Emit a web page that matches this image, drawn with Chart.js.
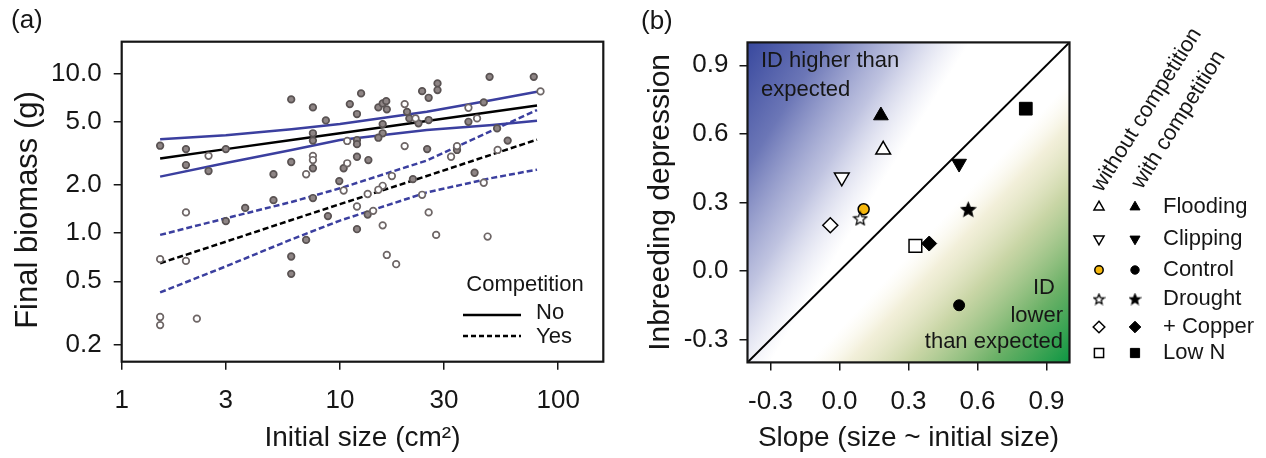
<!DOCTYPE html>
<html>
<head>
<meta charset="UTF-8">
<title>Final biomass and inbreeding depression</title>
<script src="https://cdn.jsdelivr.net/npm/chart.js"></script>
<style>
  html, body { margin: 0; padding: 0; background: #fff; }
  #wrap { position: relative; width: 1266px; height: 458px; }
  canvas { position: absolute; top: 0; }
  #chartA { left: 0; }
  #chartB { left: 630px; }
</style>
</head>
<body>
<div id="wrap">
  <canvas id="chartA" width="630" height="458"></canvas>
  <canvas id="chartB" width="636" height="458"></canvas>
</div>
<script>
// ---------- panel (a): biomass vs initial size ----------
const sizeTicks = [1, 3, 10, 30, 100];
const biomassTicks = [0.2, 0.5, 1, 2, 5, 10];

// grey filled dots
const filledSize = [1.50, 1.97, 3.00, 1.97, 2.50, 5.98, 7.52, 8.62, 7.52, 7.52, 7.52, 5.98, 4.96,
  11.1, 11.97, 12.5, 11.97, 11.97, 11.97, 10.4, 13.5, 9.93, 13.4, 11.97, 8.81, 7.52, 7.00, 4.96,
  3.68, 3.00, 5.98, 5.98, 48.5, 77.3, 28.0, 28.0, 23.8, 25.5, 20.3, 20.8, 22.9, 25.5, 15.0, 15.7,
  16.3, 16.4, 15.7, 15.7, 15.0, 45.6, 38.8, 52.5, 58.7, 25.1, 34.4, 21.6, 41.4];
const filledBiomass = [3.53, 3.36, 3.36, 2.67, 2.45, 6.88, 6.13, 5.08, 4.22, 3.80, 2.55, 2.79, 2.34,
  6.43, 5.57, 7.50, 3.83, 3.61, 3.01, 2.55, 2.87, 2.12, 1.31, 1.06, 1.28, 1.66, 0.908, 1.61,
  1.44, 1.19, 0.715, 0.557, 9.52, 9.52, 8.66, 7.87, 7.75, 7.04, 5.75, 5.23, 4.87, 5.11, 6.13, 6.49,
  6.71, 5.96, 4.82, 4.22, 3.96, 6.59, 4.98, 4.53, 3.80, 3.36, 3.32, 2.18, 2.39];

// open dots
const openSize = [2.50, 7.52, 7.52, 7.00, 10.8, 10.8, 10.4, 13.4, 11.97, 1.97, 1.50, 1.97, 1.50,
  1.50, 2.21, 83.0, 19.8, 22.2, 38.8, 42.5, 19.8, 34.4, 32.3, 52.8, 17.3, 15.7, 15.0, 45.6, 23.8,
  14.2, 25.5, 15.7, 27.6, 47.5, 16.4, 18.1];
const openBiomass = [3.05, 3.05, 2.87, 2.34, 3.78, 2.74, 1.85, 1.76, 1.47, 1.35, 0.688, 0.671, 0.299,
  0.266, 0.292, 7.72, 6.43, 5.23, 6.10, 5.23, 3.51, 3.51, 3.01, 3.32, 2.28, 1.98, 1.87, 2.07, 1.74,
  1.38, 1.35, 1.12, 0.976, 0.953, 0.731, 0.640];

// fitted lines with confidence bands
const fitSize    = [1.5, 3, 6, 10, 25, 50, 80];
const fitNo      = [2.94, 3.36, 3.83, 4.23, 5.04, 5.75, 6.29];
const fitNoHigh  = [3.87, 4.11, 4.47, 4.82, 5.75, 6.81, 7.67];
const fitNoLow   = [2.26, 2.75, 3.32, 3.83, 4.43, 4.76, 5.06];
const fitYes     = [0.649, 0.885, 1.21, 1.52, 2.28, 3.12, 3.85];
const fitYesHigh = [0.976, 1.24, 1.57, 1.91, 2.85, 4.40, 5.90];
const fitYesLow  = [0.426, 0.62, 0.915, 1.20, 1.80, 2.22, 2.50];

// ---------- panel (b): inbreeding depression vs slope ----------
const treatments   = ['Flooding', 'Clipping', 'Control', 'Drought', '+ Copper', 'Low N'];
const slopeWithout = [0.19, 0.01, 0.105, 0.09, -0.04, 0.33];
const idWithout    = [0.53, 0.41, 0.27, 0.23, 0.20, 0.11];
const slopeWith    = [0.18, 0.52, 0.52, 0.56, 0.39, 0.81];
const idWith       = [0.68, 0.47, -0.15, 0.27, 0.12, 0.71];
const identityLine = [-0.4, 1.0];
const slopeTicks = [-0.3, 0, 0.3, 0.6, 0.9];

const FONT = "'Liberation Sans', Arial, Helvetica, sans-serif";
const INK = '#161616';
const BLUE = '#3b3f9f';
Chart.defaults.font.family = FONT;
Chart.defaults.color = INK;

function xy(xs, ys) {
  return xs.map((x, i) => ({ x: x, y: ys[i] }));
}

// five-pointed star as an image, for pointStyle
function makeStar(size, fill) {
  const c = document.createElement('canvas');
  c.width = size; c.height = size;
  const g = c.getContext('2d');
  const cx = size / 2, cy = size / 2 + size * 0.04;
  const ro = size / 2 - 1.2, ri = ro * 0.45;
  g.beginPath();
  for (let i = 0; i < 10; i++) {
    const r = i % 2 ? ri : ro;
    const a = -Math.PI / 2 + i * Math.PI / 5;
    g.lineTo(cx + r * Math.cos(a), cy + r * Math.sin(a));
  }
  g.closePath();
  g.fillStyle = fill;
  g.fill();
  g.lineWidth = 1.3;
  g.strokeStyle = '#000';
  g.stroke();
  return c;
}

const starOpen = makeStar(16, '#fff');
const starFull = makeStar(17, '#000');
const starOpenSmall = makeStar(13, '#fff');
const starFullSmall = makeStar(13, '#000');

const shapes = ['triangle', 'triangle', 'circle', null, 'rectRot', 'rect'];
const shapeRotation = [0, 180, 0, 0, 0, 0];
const shapeRadius = [8.5, 8.5, 5.5, 7, 7.5, 9];
const openFill = ['#fff', '#fff', '#f6b70c', '#fff', '#fff', '#fff'];

const frame = {
  id: 'frame',
  afterDatasetsDraw(chart) {
    const a = chart.chartArea, ctx = chart.ctx;
    ctx.save();
    ctx.strokeStyle = INK;
    ctx.lineWidth = 2.2;
    ctx.strokeRect(a.left, a.top, a.right - a.left, a.bottom - a.top);
    ctx.restore();
  }
};

function text(ctx, str, x, y, size, align) {
  ctx.font = size + 'px ' + FONT;
  ctx.textAlign = align || 'left';
  ctx.textBaseline = 'middle';
  ctx.fillStyle = INK;
  ctx.fillText(str, x, y);
}

function tickSetup(ticks) {
  return s => { s.ticks = ticks.map(v => ({ value: v })); };
}

const tickGrid = { drawOnChartArea: false, drawTicks: true, tickLength: 8, color: INK, lineWidth: 1.5 };

// ---- panel (a) ----
const panelA = {
  id: 'panelA',
  afterDraw(chart) {
    const ctx = chart.ctx;
    ctx.save();
    text(ctx, '(a)', 11, 21, 26);
    // y axis title, sits a little below the plot centre in the original
    ctx.save();
    ctx.translate(28, 210);
    ctx.rotate(-Math.PI / 2);
    text(ctx, 'Final biomass (g)', 0, 0, 31, 'center');
    ctx.restore();
    text(ctx, 'Competition', 525, 285, 22, 'center');
    text(ctx, 'No', 536, 313, 22);
    text(ctx, 'Yes', 536, 337, 22);
    ctx.strokeStyle = '#000';
    ctx.lineWidth = 2.5;
    ctx.beginPath(); ctx.moveTo(463, 315); ctx.lineTo(521, 315); ctx.stroke();
    ctx.setLineDash([5, 3]);
    ctx.beginPath(); ctx.moveTo(463, 336); ctx.lineTo(521, 336); ctx.stroke();
    ctx.restore();
  }
};

function fitLine(ys, color, dashed) {
  return {
    data: xy(fitSize, ys), showLine: true, borderColor: color, borderWidth: 2.5,
    borderDash: dashed ? [6, 3] : [], pointRadius: 0, order: 2
  };
}

new Chart(document.getElementById('chartA'), {
  type: 'scatter',
  data: {
    datasets: [
      { data: xy(openSize, openBiomass), pointRadius: 3.3, pointBackgroundColor: '#fff',
        pointBorderColor: '#6e6666', pointBorderWidth: 1.7, order: 0 },
      { data: xy(filledSize, filledBiomass), pointRadius: 3.3, pointBackgroundColor: '#8e8585',
        pointBorderColor: '#5a5353', pointBorderWidth: 1.7, order: 0 },
      fitLine(fitNoHigh, BLUE, false),
      fitLine(fitNoLow, BLUE, false),
      fitLine(fitNo, '#000', false),
      fitLine(fitYesHigh, BLUE, true),
      fitLine(fitYesLow, BLUE, true),
      fitLine(fitYes, '#000', true)
    ]
  },
  options: {
    responsive: false,
    animation: false,
    layout: { padding: { top: 41.7, right: 26.7, left: 0, bottom: 0 } },
    plugins: { legend: { display: false }, tooltip: { enabled: false } },
    scales: {
      x: {
        type: 'logarithmic', min: 1, max: 161,
        afterFit: s => { s.height = 96.3; },
        afterBuildTicks: tickSetup(sizeTicks),
        ticks: { callback: v => String(v), autoSkip: false, maxRotation: 0, padding: 16,
                 font: { size: 26 }, color: INK },
        grid: tickGrid,
        border: { display: false },
        title: { display: true, text: 'Initial size (cm²)', font: { size: 28 }, color: INK,
                 padding: { top: 0, bottom: 3 } }
      },
      y: {
        type: 'logarithmic', min: 0.157, max: 15.8,
        afterFit: s => { s.width = 121.7; },
        afterBuildTicks: tickSetup(biomassTicks),
        ticks: { callback: v => v.toFixed(1), autoSkip: false, padding: 12,
                 font: { size: 26 }, color: INK },
        grid: tickGrid,
        border: { display: false },
        title: { display: false }
      }
    }
  },
  plugins: [frame, panelA]
});

// ---- panel (b) ----
const shading = {
  id: 'shading',
  beforeDatasetsDraw(chart) {
    const a = chart.chartArea, ctx = chart.ctx;
    const w = a.right - a.left, h = a.bottom - a.top;
    ctx.save();
    ctx.fillStyle = '#fff';
    ctx.fillRect(a.left, a.top, w, h);
    // blue towards the upper left
    const bl = ctx.createLinearGradient(a.left, a.top, a.left + 160, a.top + 100);
    bl.addColorStop(0, 'rgba(56,72,158,1)');
    bl.addColorStop(0.35, 'rgba(66,80,162,0.78)');
    bl.addColorStop(0.7, 'rgba(96,106,178,0.4)');
    bl.addColorStop(1, 'rgba(150,156,206,0)');
    ctx.fillStyle = bl;
    ctx.fillRect(a.left, a.top, w, h);
    // green towards the lower right, through a pale olive band
    const gr = ctx.createLinearGradient(a.right, a.bottom, a.right - 140, a.bottom - 130);
    gr.addColorStop(0, 'rgba(12,150,66,1)');
    gr.addColorStop(0.3, 'rgba(90,168,86,0.9)');
    gr.addColorStop(0.62, 'rgba(178,196,128,0.7)');
    gr.addColorStop(0.85, 'rgba(226,220,172,0.45)');
    gr.addColorStop(1, 'rgba(244,238,206,0)');
    ctx.fillStyle = gr;
    ctx.fillRect(a.left, a.top, w, h);
    ctx.restore();
  }
};

const panelB = {
  id: 'panelB',
  afterDraw(chart) {
    const ctx = chart.ctx;
    const H = Chart.helpers;
    ctx.save();
    text(ctx, '(b)', 11, 22, 26);
    text(ctx, 'ID higher than', 131, 61, 22);
    text(ctx, 'expected', 131, 90, 22);
    text(ctx, 'ID', 425, 288, 22, 'right');
    text(ctx, 'lower', 433, 316, 22, 'right');
    text(ctx, 'than expected', 433, 342, 22, 'right');

    // column headers
    [['without competition', 472, 193], ['with competition', 512, 190]].forEach(h => {
      ctx.save();
      ctx.translate(h[1], h[2]);
      ctx.rotate(-58 * Math.PI / 180);
      ctx.font = '22px ' + FONT;
      ctx.textAlign = 'left';
      ctx.textBaseline = 'alphabetic';
      ctx.fillStyle = INK;
      ctx.fillText(h[0], 0, 0);
      ctx.restore();
    });

    const rowY = [207, 239, 270, 299, 327, 353];
    const legR = [5.8, 5.8, 4.2, 5, 5.8, 6.5];
    treatments.forEach((name, i) => {
      const y = rowY[i];
      ctx.strokeStyle = '#000';
      ctx.lineWidth = 1.5;
      ctx.fillStyle = openFill[i];
      const st = shapes[i];
      H.drawPoint(ctx, { pointStyle: st || starOpenSmall, radius: legR[i], rotation: shapeRotation[i], borderWidth: 1.5 }, 469, y);
      ctx.fillStyle = '#000';
      ctx.lineWidth = 1;
      H.drawPoint(ctx, { pointStyle: st || starFullSmall, radius: legR[i], rotation: shapeRotation[i], borderWidth: 1 }, 505, y);
      text(ctx, name, 533, y, 22);
    });
    ctx.restore();
  }
};

new Chart(document.getElementById('chartB'), {
  type: 'scatter',
  data: {
    datasets: [
      { data: xy(slopeWith, idWith), pointStyle: shapes.map(s => s || starFull),
        pointRotation: shapeRotation, pointRadius: shapeRadius, pointBackgroundColor: '#000',
        pointBorderColor: '#000', pointBorderWidth: 1, order: 0 },
      { data: xy(slopeWithout, idWithout), pointStyle: shapes.map(s => s || starOpen),
        pointRotation: shapeRotation, pointRadius: shapeRadius, pointBackgroundColor: openFill,
        pointBorderColor: '#000', pointBorderWidth: 1.5, order: 0 },
      { data: xy(identityLine, identityLine), showLine: true, borderColor: '#000',
        borderWidth: 2, pointRadius: 0, order: 1 }
    ]
  },
  options: {
    responsive: false,
    animation: false,
    layout: { padding: { top: 42.4, right: 196.5, left: 0, bottom: 0 } },
    plugins: { legend: { display: false }, tooltip: { enabled: false } },
    scales: {
      x: {
        type: 'linear', min: -0.4, max: 1.0,
        afterFit: s => { s.height = 95.6; },
        afterBuildTicks: tickSetup(slopeTicks),
        ticks: { callback: v => v.toFixed(1), autoSkip: false, maxRotation: 0, padding: 16,
                 font: { size: 26 }, color: INK },
        grid: tickGrid,
        border: { display: false },
        title: { display: true, text: 'Slope (size ~ initial size)', font: { size: 28 }, color: INK,
                 padding: { top: 0, bottom: 3 } }
      },
      y: {
        type: 'linear', min: -0.4, max: 1.0,
        afterFit: s => { s.width = 117.5; },
        afterBuildTicks: tickSetup(slopeTicks),
        ticks: { callback: v => v.toFixed(1), autoSkip: false, padding: 11,
                 font: { size: 26 }, color: INK },
        grid: tickGrid,
        border: { display: false },
        title: { display: true, text: 'Inbreeding depression', font: { size: 30 }, color: INK,
                 padding: { top: 13, bottom: 0 } }
      }
    }
  },
  plugins: [shading, frame, panelB]
});
</script>
</body>
</html>
